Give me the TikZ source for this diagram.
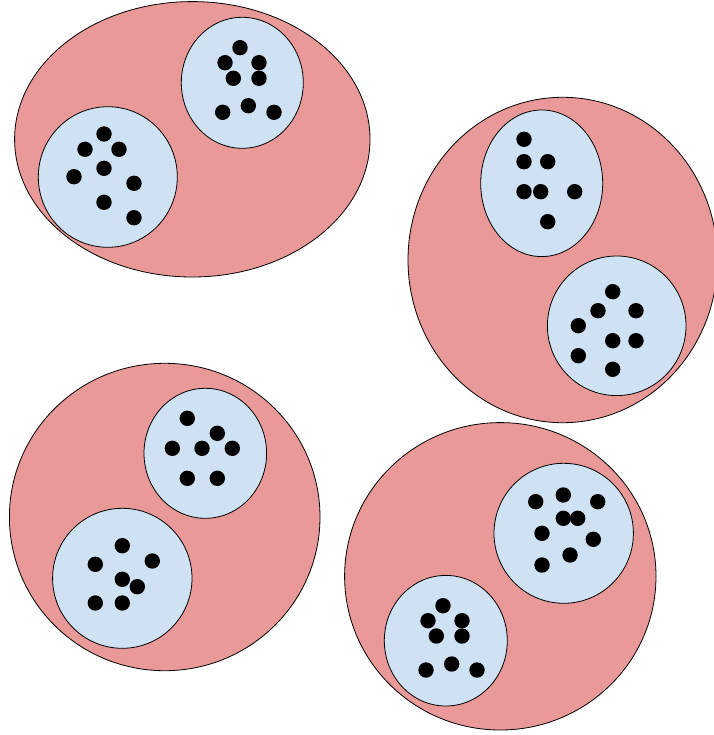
\documentclass[tikz,border=0pt]{standalone}
\definecolor{outerfill}{HTML}{EA9999}
\definecolor{innerfill}{HTML}{CFE2F3}
\tikzset{
  outerblob/.style={draw=black,fill=outerfill,line width=0.8pt},
  innerblob/.style={draw=black,fill=innerfill,line width=0.8pt},
  dotfill/.style={fill=black}
}
\begin{document}
\begin{tikzpicture}[x=1pt,y=-1pt]
\useasboundingbox (0,0) rectangle (713,735);
% group 1
\path[outerblob] (192.3,139.3) ellipse (177.7 and 137.7);
\path[innerblob] (242.3,82.8) ellipse (61 and 65.5);
\path[innerblob] (107.8,177) ellipse (69.5 and 70.3);
\foreach \x/\y in {240/47.7,225/62.7,259/62.7,233.3/78.3,259/78.3,222.7/112.3,248.3/105.7,274/112.3,
  104/134,85/149.3,119/149.3,104/168.3,74/176.7,134/183.3,104/202.3,134/217.7}
  \fill[dotfill] (\x,\y) circle (7.7);
% group 2
\path[outerblob] (562.7,260) ellipse (154.7 and 162.7);
\path[innerblob] (541.7,183.3) ellipse (61 and 73.3);
\path[innerblob] (616.7,325.8) ellipse (69.3 and 69.8);
\foreach \x/\y in {524/139.3,524/161.7,547.7/161.7,524/191.7,540.7/191.7,574.7/191.7,547.7/221.7,
  612.7/291.7,598/310.7,636/310.7,578.3/325.7,612.7/340.7,636/340.7,578.3/355.7,612.7/369.3}
  \fill[dotfill] (\x,\y) circle (7.7);
% group 3
\path[outerblob] (164.7,517) ellipse (155.3 and 153.7);
\path[innerblob] (205.3,453.3) ellipse (61.3 and 65);
\path[innerblob] (122.3,578.3) ellipse (69.7 and 70);
\foreach \x/\y in {187.3/418.3,217.3/433.3,172.3/448.3,202/448.3,232.3/448.3,187.3/478.3,217.3/478.3,
  122.3/545.7,95.3/564.3,152.3/561,122.3/579.3,137.3/586.7,95.3/603,122.3/603}
  \fill[dotfill] (\x,\y) circle (7.7);
% group 4
\path[outerblob] (500.3,576.3) ellipse (155.7 and 153.7);
\path[innerblob] (563.7,533.3) ellipse (69.7 and 70);
\path[innerblob] (445.8,640.7) ellipse (61.5 and 65.3);
\foreach \x/\y in {535.7/501.7,563.3/495,597.7/501.7,563.3/518.3,577.7/518.3,542/533.3,593.3/539.3,570/555,542/565,
  443/605.7,428/620.7,462/620.7,436.3/636,462/636,426/670,451.7/664,477/670}
  \fill[dotfill] (\x,\y) circle (7.7);
\end{tikzpicture}
\end{document}
